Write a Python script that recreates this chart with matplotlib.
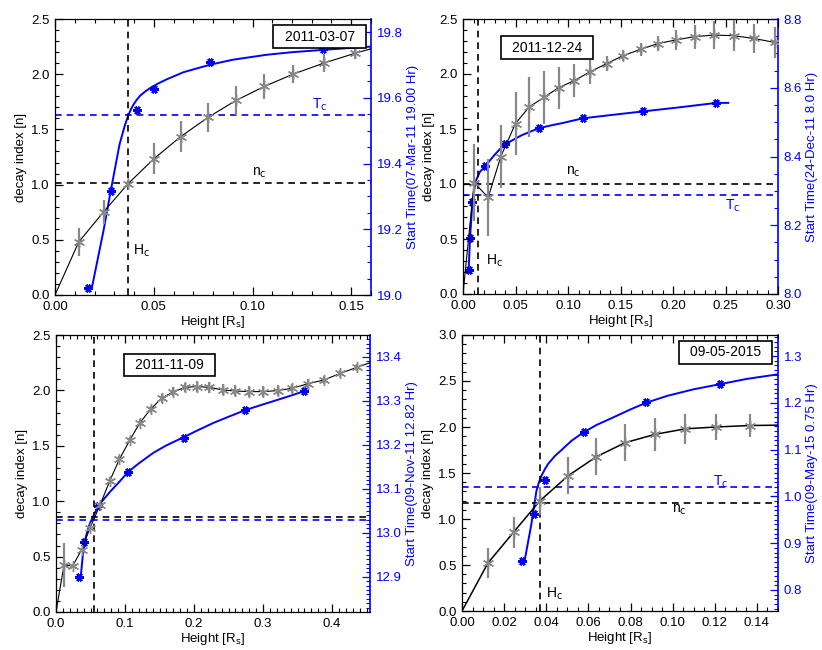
import matplotlib
matplotlib.use("Agg")
import matplotlib.pyplot as plt
from matplotlib.ticker import MultipleLocator, FormatStrFormatter

plt.rcParams['font.family'] = ['Liberation Sans', 'DejaVu Sans']
plt.rcParams['font.size'] = 8.5

# ---------------- Panel 1 : 2011-03-07 ----------------
p1_date = "2011-03-07"
p1_h = [0.012, 0.0246, 0.037, 0.050, 0.0636, 0.0776, 0.0916, 0.106, 0.1205, 0.136, 0.152]
p1_n = [0.48, 0.753, 1.008, 1.233, 1.434, 1.61, 1.762, 1.889, 2.0, 2.10, 2.19]
p1_err = [0.125, 0.11, 0.03, 0.14, 0.14, 0.13, 0.13, 0.11, 0.08, 0.08, 0.05]
p1_line_h = [0.0] + p1_h + [0.16]
p1_line_n = [0.0] + p1_n + [2.23]
p1_bh = [0.0167, 0.0282, 0.0417, 0.050, 0.0786, 0.1357]
p1_bt = [19.022, 19.316, 19.564, 19.627, 19.71, 19.749]
p1_fit_h = [0.0186, 0.0245, 0.0282, 0.0327, 0.0353, 0.037, 0.0385, 0.040, 0.0415, 0.043, 0.046,
            0.049, 0.052, 0.0564, 0.065, 0.0786, 0.09, 0.107, 0.12, 0.1357, 0.145, 0.16]
p1_fit_t = [19.020, 19.194, 19.316, 19.459, 19.515, 19.545, 19.566, 19.582, 19.595, 19.606, 19.621,
            19.633, 19.643, 19.656, 19.678, 19.701, 19.716, 19.731, 19.739, 19.746, 19.75, 19.756]
p1_nc, p1_hc, p1_tc = 1.01, 0.037, 19.548
p1_right_label = "Start Time(07-Mar-11 19.00 Hr)"

# ---------------- Panel 2 : 2011-12-24 ----------------
p2_date = "2011-12-24"
p2_h = [0.0106, 0.024, 0.036, 0.050, 0.063, 0.0774, 0.091, 0.106, 0.121, 0.137, 0.152, 0.1695,
        0.186, 0.203, 0.2207, 0.239, 0.258, 0.277, 0.297]
p2_n = [1.012, 0.878, 1.25, 1.55, 1.70, 1.79, 1.875, 1.94, 2.02, 2.095, 2.165, 2.226,
        2.277, 2.31, 2.34, 2.354, 2.348, 2.323, 2.287]
p2_err = [0.35, 0.35, 0.29, 0.29, 0.27, 0.24, 0.19, 0.15, 0.11, 0.07, 0.05, 0.06,
          0.07, 0.09, 0.11, 0.13, 0.14, 0.13, 0.14]
p2_line_h = [0.0] + p2_h + [0.30]
p2_line_n = [0.0] + p2_n + [2.28]
p2_bh = [0.0054, 0.0067, 0.009, 0.0214, 0.040, 0.072, 0.114, 0.171, 0.2414]
p2_bt = [8.070, 8.163, 8.269, 8.372, 8.435, 8.482, 8.511, 8.531, 8.556]
p2_fit_h = [0.0054, 0.0067, 0.009, 0.011, 0.0128, 0.016, 0.0214, 0.026, 0.0304, 0.035, 0.040, 0.048,
            0.056, 0.064, 0.072, 0.083, 0.0943, 0.114, 0.142, 0.171, 0.206, 0.2414, 0.2526]
p2_fit_t = [8.070, 8.163, 8.269, 8.308, 8.333, 8.355, 8.372, 8.39, 8.406, 8.421, 8.435, 8.449,
            8.462, 8.472, 8.482, 8.49, 8.497, 8.511, 8.521, 8.531, 8.543, 8.556, 8.556]
p2_nc, p2_hc, p2_tc = 1.0, 0.0144, 8.287
p2_right_label = "Start Time(24-Dec-11 8.0 Hr)"

# ---------------- Panel 3 : 2011-11-09 ----------------
p3_date = "2011-11-09"
p3_h = [0.0116, 0.024, 0.037, 0.049, 0.0638, 0.078, 0.0918, 0.107, 0.1217, 0.137, 0.153, 0.17,
        0.187, 0.204, 0.222, 0.2416, 0.2594, 0.28, 0.30, 0.321, 0.3425, 0.365, 0.388, 0.412, 0.436]
p3_n = [0.424, 0.415, 0.56, 0.755, 0.966, 1.185, 1.378, 1.552, 1.708, 1.83, 1.929, 1.988,
        2.028, 2.034, 2.028, 2.004, 1.995, 1.989, 1.989, 1.998, 2.02, 2.06, 2.094, 2.154, 2.208]
p3_err = [0.2, 0.02, 0.02, 0.02, 0.03, 0.03, 0.03, 0.03, 0.03, 0.03, 0.04, 0.04,
          0.04, 0.05, 0.05, 0.05, 0.05, 0.05, 0.05, 0.05, 0.04, 0.04, 0.04, 0.03, 0.03]
p3_line_h = [0.0] + p3_h + [0.455]
p3_line_n = [0.0] + p3_n + [2.25]
p3_bh = [0.0333, 0.0406, 0.0613, 0.1048, 0.1855, 0.274, 0.359]
p3_bt = [12.899, 12.98, 13.061, 13.139, 13.216, 13.279, 13.322]
p3_fit_h = [0.0358, 0.0387, 0.042, 0.0455, 0.049, 0.054, 0.0613, 0.07, 0.078, 0.09, 0.1048, 0.12,
            0.141, 0.16, 0.1855, 0.205, 0.228, 0.25, 0.274, 0.2957, 0.32, 0.34, 0.359]
p3_fit_t = [12.899, 12.947, 12.983, 13.004, 13.021, 13.038, 13.061, 13.078, 13.093, 13.113, 13.139, 13.158,
            13.182, 13.199, 13.218, 13.233, 13.25, 13.264, 13.279, 13.29, 13.302, 13.312, 13.322]
p3_nc, p3_hc, p3_tc = 0.86, 0.055, 13.03
p3_right_label = "Start Time(09-Nov-11 12.82 Hr)"

# ---------------- Panel 4 : 09-05-2015 ----------------
p4_date = "09-05-2015"
p4_h = [0.0123, 0.0245, 0.0369, 0.0503, 0.0638, 0.0775, 0.0918, 0.106, 0.1204, 0.1365]
p4_n = [0.521, 0.857, 1.196, 1.469, 1.677, 1.83, 1.921, 1.98, 2.0, 2.016]
p4_err = [0.16, 0.17, 0.15, 0.2, 0.2, 0.2, 0.18, 0.16, 0.14, 0.12]
p4_line_h = [0.0] + p4_h + [0.15]
p4_line_n = [0.0] + p4_n + [2.02]
p4_bh = [0.0286, 0.0342, 0.0396, 0.0577, 0.0873, 0.1226]
p4_bt = [0.862, 0.963, 1.035, 1.138, 1.2026, 1.2405]
p4_fit_h = [0.0297, 0.0329, 0.0353, 0.0365, 0.0377, 0.0392, 0.0408, 0.044, 0.0472, 0.052, 0.0577,
            0.064, 0.0709, 0.08, 0.0873, 0.0975, 0.11, 0.1226, 0.135, 0.15]
p4_fit_t = [0.862, 0.94, 1.011, 1.03, 1.044, 1.057, 1.069, 1.086, 1.099, 1.119, 1.137,
            1.153, 1.167, 1.186, 1.200, 1.215, 1.229, 1.24, 1.251, 1.261]
p4_nc, p4_hc, p4_tc = 1.177, 0.0369, 1.02
p4_right_label = "Start Time(09-May-15 0.75 Hr)"

BLUE = '#0000ff'
GRAY = '#888888'

fig = plt.figure(figsize=(8.22, 6.5), dpi=100)

panels = [
    dict(rect=[55/822, 1-295/650, 316/822, 276/650], date=p1_date, h=p1_h, n=p1_n, err=p1_err,
         lh=p1_line_h, ln=p1_line_n, lw=0.8, bh=p1_bh, bt=p1_bt, fh=p1_fit_h, ft=p1_fit_t,
         nc=p1_nc, hc=p1_hc, tc=p1_tc, rl=p1_right_label,
         xlim=(0, 0.16), xmaj=0.05, xmin=0.01, ylim=(0, 2.5), ymaj=0.5,
         tlim=(19.0, 19.84), tmaj=0.2, tmin=0.05, xfmt='%.2f', tfmt='%.1f',
         datepos=(0.134, 2.34), labels=[('T', 0.134, 1.72, BLUE), ('n', 0.1036, 1.11, 'k'), ('H', 0.044, 0.40, 'k')]),
    dict(rect=[463/822, 1-294/650, 315/822, 275/650], date=p2_date, h=p2_h, n=p2_n, err=p2_err,
         lh=p2_line_h, ln=p2_line_n, lw=0.8, bh=p2_bh, bt=p2_bt, fh=p2_fit_h, ft=p2_fit_t,
         nc=p2_nc, hc=p2_hc, tc=p2_tc, rl=p2_right_label,
         xlim=(0, 0.30), xmaj=0.05, xmin=0.01, ylim=(0, 2.5), ymaj=0.5,
         tlim=(8.0, 8.8), tmaj=0.2, tmin=0.05, xfmt='%.2f', tfmt='%.1f',
         datepos=(0.080, 2.24), labels=[('T', 0.257, 0.80, BLUE), ('n', 0.1055, 1.11, 'k'), ('H', 0.030, 0.30, 'k')]),
    dict(rect=[56/822, 1-612/650, 314/822, 277/650], date=p3_date, h=p3_h, n=p3_n, err=p3_err,
         lh=p3_line_h, ln=p3_line_n, lw=0.8, bh=p3_bh, bt=p3_bt, fh=p3_fit_h, ft=p3_fit_t,
         nc=p3_nc, hc=p3_hc, tc=p3_tc, rl=p3_right_label,
         xlim=(0, 0.455), xmaj=0.1, xmin=0.01, ylim=(0, 2.5), ymaj=0.5,
         tlim=(12.82, 13.45), tmaj=0.1, tmin=0.01, xfmt='%.1f', tfmt='%.1f',
         datepos=(0.164, 2.23), labels=[]),
    dict(rect=[462/822, 1-611/650, 316/822, 276/650], date=p4_date, h=p4_h, n=p4_n, err=p4_err,
         lh=p4_line_h, ln=p4_line_n, lw=1.1, bh=p4_bh, bt=p4_bt, fh=p4_fit_h, ft=p4_fit_t,
         nc=p4_nc, hc=p4_hc, tc=p4_tc, rl=p4_right_label,
         xlim=(0, 0.15), xmaj=0.02, xmin=0.005, ylim=(0, 3.0), ymaj=0.5,
         tlim=(0.755, 1.345), tmaj=0.1, tmin=0.01, xfmt='%.2f', tfmt='%.1f',
         datepos=(0.125, 2.81), labels=[('T', 0.123, 1.40, BLUE), ('n', 0.103, 1.10, 'k'), ('H', 0.0437, 0.19, 'k')]),
]

gray_marker = (6, 2, 0)
blue_marker = (6, 2, 90)

for p in panels:
    ax = fig.add_axes(p['rect'])
    ax2 = ax.twinx()
    ax.set_zorder(ax2.get_zorder() + 1)
    ax.patch.set_visible(False)

    # decay index
    ax.plot(p['lh'], p['ln'], color='k', lw=p['lw'], zorder=3)
    ax.errorbar(p['h'], p['n'], yerr=p['err'], fmt='none', ecolor=GRAY, elinewidth=1.6, capsize=0, zorder=4)
    ax.plot(p['h'], p['n'], linestyle='none', marker=gray_marker, ms=8, mew=1.0, color=GRAY, zorder=5)

    # critical lines
    ax.axhline(p['nc'], color='k', ls=(0, (4, 3)), lw=1.2, zorder=2)
    ax.axvline(p['hc'], color='k', ls=(0, (4, 3)), lw=1.2, zorder=2)

    # start time
    ax2.plot(p['fh'], p['ft'], color=BLUE, lw=1.4)
    ax2.plot(p['bh'], p['bt'], linestyle='none', marker=blue_marker, ms=6, mew=1.8, color=BLUE)
    ax2.axhline(p['tc'], color=BLUE, ls=(0, (4, 3)), lw=1.2)

    ax.set_xlim(*p['xlim'])
    ax.set_ylim(*p['ylim'])
    ax2.set_ylim(*p['tlim'])

    ax.xaxis.set_major_locator(MultipleLocator(p['xmaj']))
    ax.xaxis.set_minor_locator(MultipleLocator(p['xmin']))
    ax.yaxis.set_major_locator(MultipleLocator(p['ymaj']))
    ax.yaxis.set_minor_locator(MultipleLocator(0.1))
    ax.xaxis.set_major_formatter(FormatStrFormatter(p['xfmt']))
    ax.yaxis.set_major_formatter(FormatStrFormatter('%.1f'))
    ax2.yaxis.set_major_locator(MultipleLocator(p['tmaj']))
    ax2.yaxis.set_minor_locator(MultipleLocator(p['tmin']))
    ax2.yaxis.set_major_formatter(FormatStrFormatter(p['tfmt']))

    ax.tick_params(which='both', direction='in', top=True, right=False, labelsize=9.5, pad=4)
    ax.tick_params(which='major', length=6, width=0.9)
    ax.tick_params(which='minor', length=3, width=0.8)
    ax2.tick_params(which='both', direction='in', colors=BLUE, labelsize=9.5, pad=4)
    ax2.tick_params(which='major', length=6, width=0.9)
    ax2.tick_params(which='minor', length=3, width=0.8)

    ax.spines['right'].set_visible(False)
    for s in ['left', 'top', 'bottom']:
        ax.spines[s].set_linewidth(0.9)
    ax2.spines['right'].set_color(BLUE)
    ax2.spines['right'].set_linewidth(1.2)
    for s in ['left', 'top', 'bottom']:
        ax2.spines[s].set_visible(False)

    ax.set_xlabel(r'Height [R$_{\rm s}$]', fontsize=9.5, labelpad=1)
    ax.set_ylabel('decay index [n]', fontsize=9.5, labelpad=3)
    ax2.set_ylabel(p['rl'], color=BLUE, fontsize=9.5, labelpad=3)

    ax.text(p['datepos'][0], p['datepos'][1], '\u2002' + p['date'] + '\u2002', ha='center', va='center',
            fontsize=10, zorder=10, bbox=dict(boxstyle='square,pad=0.3', fc='white', ec='k', lw=1.2))

    for sym, x, y, c in p['labels']:
        ax.text(x, y, sym + r'$_{\rm c}$', color=c, fontsize=10, ha='center', va='center', zorder=10)

fig.savefig('out.png', dpi=100)
